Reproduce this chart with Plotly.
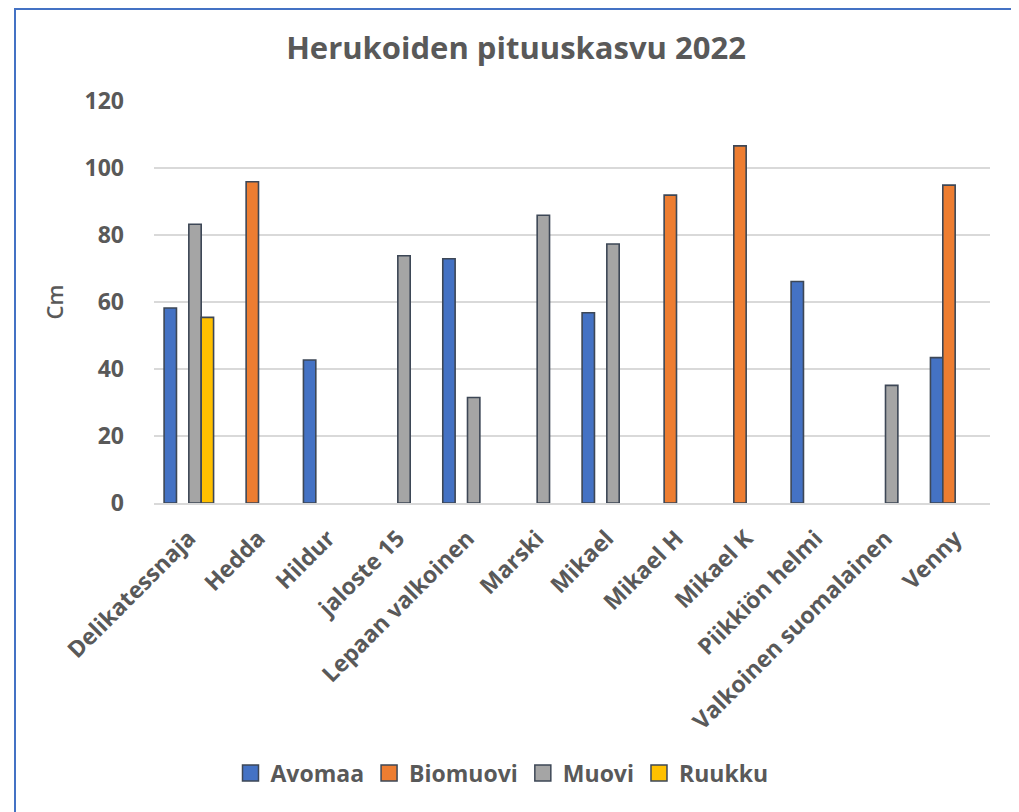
import plotly.graph_objects as go

categories = ["Delikatessnaja", "Hedda", "Hildur", "jaloste 15", "Lepaan valkoinen",
              "Marski", "Mikael", "Mikael H", "Mikael K", "Piikkiön helmi",
              "Valkoinen suomalainen", "Venny"]
avomaa = [58.2, None, 42.7, None, 72.9, None, 56.8, None, None, 66.1, None, 43.4]
biomuovi = [None, 95.9, None, None, None, None, None, 91.9, 106.6, None, None, 94.9]
muovi = [83.2, None, None, 73.8, 31.5, 85.9, 77.3, None, None, None, 35.1, None]
ruukku = [55.4, None, None, None, None, None, None, None, None, None, None, None]

series_names = ["Avomaa", "Biomuovi", "Muovi", "Ruukku"]
series_values = [avomaa, biomuovi, muovi, ruukku]
series_colors = ["#4472C4", "#ED7D31", "#A5A5A5", "#FFC000"]

y_ticks = [0, 20, 40, 60, 80, 100, 120]

FONT = "Open Sans"
TXT = "#595959"
OUTLINE = "#3D4756"

fig = go.Figure()
for name, vals, col in zip(series_names, series_values, series_colors):
    fig.add_trace(go.Bar(
        x=categories, y=vals, name=name,
        marker=dict(color=col, line=dict(color=OUTLINE, width=1.6)),
        showlegend=False,
    ))
# legend entries
for name, col in zip(series_names, series_colors):
    fig.add_trace(go.Scatter(
        x=[None], y=[None], mode="markers", name=name,
        marker=dict(symbol="square", size=18, color=col, line=dict(color=OUTLINE, width=1.5)),
        showlegend=True,
    ))

# page body has an 8px margin; work in window coordinates and shift
OFF = 8
W, H = 1019 - OFF, 812 - OFF
L, R, T, B = 154 - OFF, 1019 - 990, 101 - OFF, 812 - 503
pw, ph = W - L - R, H - T - B

def px(xw):
    return (xw - OFF - L) / pw

def py(yw):
    return (H - B - (yw - OFF)) / ph

fig.update_layout(
    width=W, height=H,
    margin=dict(l=L, r=R, t=T, b=B, autoexpand=False),
    paper_bgcolor="white", plot_bgcolor="white",
    barmode="group", bargap=0.29, bargroupgap=0,
    font=dict(family=FONT, color=TXT),
    title=dict(text="Herukoiden pituuskasvu 2022", xref="container", x=(516 - OFF) / W,
               xanchor="center", yref="container", y=1 - (48 - OFF) / H, yanchor="middle",
               font=dict(size=31, family=FONT, color=TXT, weight=700)),
    xaxis=dict(tickangle=-45, tickfont=dict(size=23, family=FONT, color=TXT, weight=700),
               showgrid=False, showline=True, linecolor="#D9D9D9", linewidth=1.5,
               ticks="", ticklabelstandoff=11, fixedrange=True),
    yaxis=dict(range=[0, 120], tickvals=y_ticks, ticktext=[str(v) for v in y_ticks],
               tickfont=dict(size=23, family=FONT, color=TXT, weight=700),
               showgrid=True, gridcolor="#D9D9D9", gridwidth=1.5,
               zeroline=False, showline=False, ticks="", ticklabelstandoff=29,
               title=dict(text="Cm", font=dict(size=22, family=FONT, color=TXT, weight=600),
                          standoff=14)),
    legend=dict(orientation="h", x=px(502), xanchor="center", y=py(773), yanchor="middle",
                font=dict(size=23, family=FONT, color=TXT, weight=700), itemwidth=30,
                bgcolor="rgba(0,0,0,0)"),
    shapes=[dict(type="rect", xref="paper", yref="paper",
                 x0=px(15), x1=px(1012), y0=py(830), y1=py(OFF + 1),
                 line=dict(color="#4472C4", width=2), fillcolor="rgba(0,0,0,0)", layer="below")],
)

fig.write_html("out.html")
